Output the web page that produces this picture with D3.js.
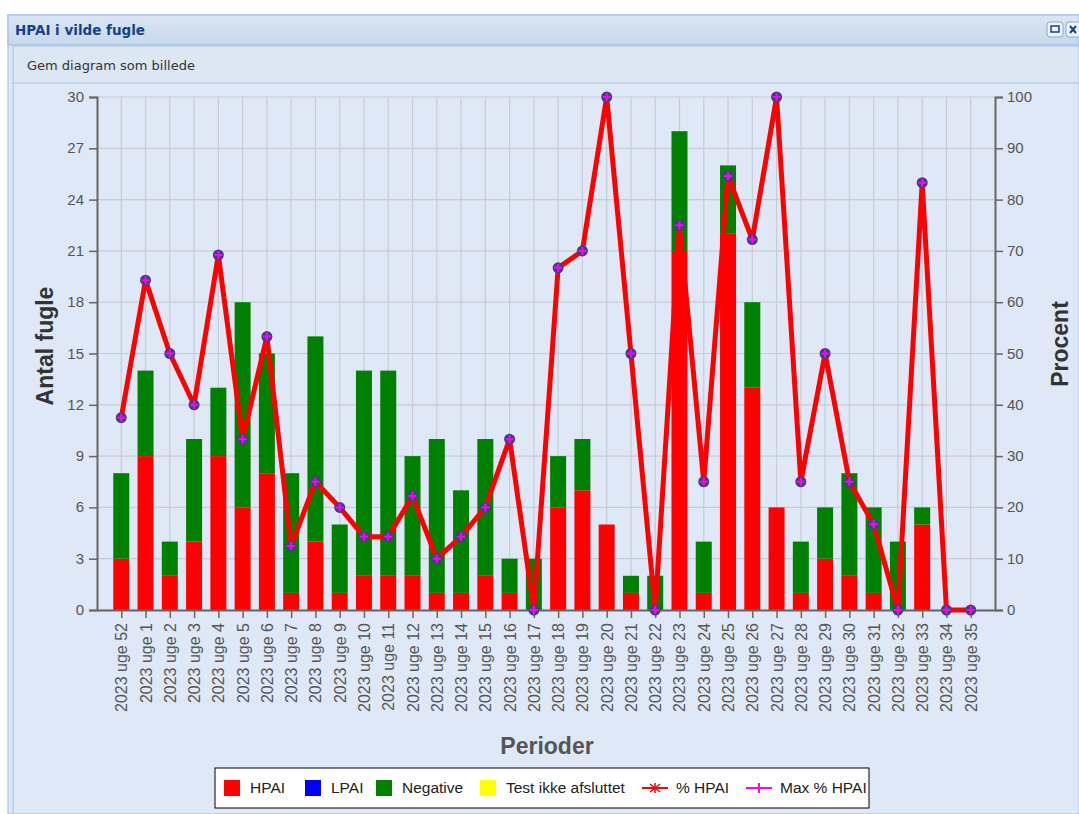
<!DOCTYPE html>
<html>
<head>
    <title>HPAI i vilde fugle</title>
    <script src="https://d3js.org/d3.v7.min.js"></script>
    <style>
        body { margin: 0; background: #fff; font-family: "Liberation Sans", Arial, sans-serif; }
        svg { display: block; }
    </style>
</head>
<body>
    <svg id="chart"></svg>
    <script>
        // uger (kategorier)
        var categories = ['2023 uge 52', '2023 uge 1', '2023 uge 2', '2023 uge 3', '2023 uge 4', '2023 uge 5',
            '2023 uge 6', '2023 uge 7', '2023 uge 8', '2023 uge 9', '2023 uge 10', '2023 uge 11', '2023 uge 12',
            '2023 uge 13', '2023 uge 14', '2023 uge 15', '2023 uge 16', '2023 uge 17', '2023 uge 18', '2023 uge 19',
            '2023 uge 20', '2023 uge 21', '2023 uge 22', '2023 uge 23', '2023 uge 24', '2023 uge 25', '2023 uge 26',
            '2023 uge 27', '2023 uge 28', '2023 uge 29', '2023 uge 30', '2023 uge 31', '2023 uge 32', '2023 uge 33',
            '2023 uge 34', '2023 uge 35'];
        var hpai     = [3, 9, 2, 4, 9, 6, 8, 1, 4, 1, 2, 2, 2, 1, 1, 2, 1, 0, 6, 7, 5, 1, 0, 21, 1, 22, 13, 6, 1, 3, 2, 1, 0, 5, 0, 0];
        var lpai     = [0, 0, 0, 0, 0, 0, 0, 0, 0, 0, 0, 0, 0, 0, 0, 0, 0, 0, 0, 0, 0, 0, 0, 0, 0, 0, 0, 0, 0, 0, 0, 0, 0, 0, 0, 0];
        var negative = [5, 5, 2, 6, 4, 12, 7, 7, 12, 4, 12, 12, 7, 9, 6, 8, 2, 3, 3, 3, 0, 1, 2, 7, 3, 4, 5, 0, 3, 3, 6, 5, 4, 1, 0, 0];
        var testIkke = [0, 0, 0, 0, 0, 0, 0, 0, 0, 0, 0, 0, 0, 0, 0, 0, 0, 0, 0, 0, 0, 0, 0, 0, 0, 0, 0, 0, 0, 0, 0, 0, 0, 0, 0, 0];
        var pctHpai  = [37.5, 64.3, 50, 40, 69.2, 33.3, 53.3, 12.5, 25, 20, 14.3, 14.3, 22.2, 10, 14.3, 20, 33.3, 0, 66.7, 70,
            100, 50, 0, 75, 25, 84.6, 72.2, 100, 25, 50, 25, 16.7, 0, 83.3, 0, 0];
        var maxPctHpai = [37.5, 64.3, 50, 40, 69.2, 33.3, 53.3, 12.5, 25, 20, 14.3, 14.3, 22.2, 10, 14.3, 20, 33.3, 0, 66.7, 70,
            100, 50, 0, 75, 25, 84.6, 72.2, 100, 25, 50, 25, 16.7, 0, 83.3, 0, 0];
        var leftTicks  = [0, 3, 6, 9, 12, 15, 18, 21, 24, 27, 30];
        var rightTicks = [0, 10, 20, 30, 40, 50, 60, 70, 80, 90, 100];

        var width = 1079;
        var height = 814;
        var margin = { top: 97, right: 84, bottom: 204, left: 97 };
        var innerWidth = width - margin.left - margin.right;
        var innerHeight = height - margin.top - margin.bottom;

        var svg = d3.select('#chart')
            .attr('width', width)
            .attr('height', height);

        // panel
        svg.append('rect').attr('x', 8).attr('y', 15).attr('width', width - 8).attr('height', height - 15)
            .attr('fill', '#dfe8f6').attr('stroke', '#99bbe8');
        var grad = svg.append('defs').append('linearGradient').attr('id', 'hdr').attr('x2', 0).attr('y2', 1);
        grad.append('stop').attr('offset', 0).attr('stop-color', '#dae6f4');
        grad.append('stop').attr('offset', 1).attr('stop-color', '#c8d7ea');
        svg.append('rect').attr('x', 8).attr('y', 15).attr('width', width - 8).attr('height', 30)
            .attr('fill', 'url(#hdr)').attr('stroke', '#99bbe8');
        svg.append('text').attr('x', 15).attr('y', 35)
            .style('font-family', 'DejaVu Sans, sans-serif').style('font-weight', 'bold')
            .style('font-size', '13.5px').attr('fill', '#15428b').text('HPAI i vilde fugle');
        svg.append('rect').attr('x', 1047).attr('y', 22).attr('width', 16).attr('height', 15).attr('rx', 3)
            .attr('fill', '#eef3fa').attr('stroke', '#8aa8d0');
        svg.append('rect').attr('x', 1051).attr('y', 26).attr('width', 8).attr('height', 6)
            .attr('fill', 'none').attr('stroke', '#15428b').attr('stroke-width', 1.5);
        svg.append('rect').attr('x', 1066).attr('y', 22).attr('width', 16).attr('height', 15).attr('rx', 3)
            .attr('fill', '#eef3fa').attr('stroke', '#8aa8d0');
        svg.append('path').attr('d', 'M1070,26L1076,33M1076,26L1070,33')
            .attr('stroke', '#15428b').attr('stroke-width', 2);
        svg.append('rect').attr('x', 13).attr('y', 46).attr('width', width - 13).attr('height', 37)
            .attr('fill', '#dde7f4').attr('stroke', '#a9c0df');
        svg.append('text').attr('x', 27).attr('y', 70)
            .style('font-family', 'DejaVu Sans, sans-serif').style('font-size', '13px')
            .attr('fill', '#333').text('Gem diagram som billede');
        svg.append('line').attr('x1', 13).attr('x2', 13).attr('y1', 83).attr('y2', height)
            .attr('stroke', '#a9c0df');

        // skalaer i absolutte koordinater
        var xScale = d3.scalePoint()
            .domain(categories)
            .range([margin.left, width - margin.right])
            .padding(1);
        var yScale = d3.scaleLinear().domain([0, 30]).range([height - margin.bottom, margin.top]);
        var y2Scale = d3.scaleLinear().domain([0, 100]).range([height - margin.bottom, margin.top]);

        var chart = svg.append('g');

        // gitter
        chart.append('g').selectAll('line').data(leftTicks).enter().append('line')
            .attr('x1', margin.left).attr('x2', width - margin.right)
            .attr('y1', function(d) { return yScale(d); }).attr('y2', function(d) { return yScale(d); })
            .attr('stroke', '#c8ccd4').attr('stroke-width', 1.2);
        chart.append('g').selectAll('line').data(categories).enter().append('line')
            .attr('x1', function(d) { return xScale(d); }).attr('x2', function(d) { return xScale(d); })
            .attr('y1', margin.top).attr('y2', height - margin.bottom)
            .attr('stroke', '#c8ccd4').attr('stroke-width', 1.2);

        // stablede søjler
        var keys = ['hpai', 'lpai', 'negative', 'test'];
        var colors = { hpai: '#ff0000', lpai: '#0000ff', negative: '#008000', test: '#ffff00' };
        var rows = categories.map(function(c, i) {
            return { label: c, hpai: hpai[i], lpai: lpai[i], negative: negative[i], test: testIkke[i] };
        });
        var stacked = d3.stack().keys(keys)(rows);
        var barW = 16;

        chart.append('g').selectAll('g').data(stacked).enter().append('g')
            .attr('fill', function(s) { return colors[s.key]; })
            .selectAll('rect').data(function(s) { return s; }).enter().append('rect')
            .attr('x', function(d) { return xScale(d.data.label) - barW / 2; })
            .attr('y', function(d) { return yScale(d[1]); })
            .attr('width', barW)
            .attr('height', function(d) { return yScale(d[0]) - yScale(d[1]); });

        // akser
        var axisL = chart.append('g')
            .attr('transform', 'translate(' + margin.left + ',0)')
            .call(d3.axisLeft(yScale).tickValues(leftTicks).tickSize(8).tickFormat(''));
        var axisR = chart.append('g')
            .attr('transform', 'translate(' + (width - margin.right) + ',0)')
            .call(d3.axisRight(y2Scale).tickValues(rightTicks).tickSize(8).tickFormat(''));
        var axisB = chart.append('g')
            .attr('transform', 'translate(0,' + (height - margin.bottom) + ')')
            .call(d3.axisBottom(xScale).tickSize(8).tickSizeOuter(0).tickFormat(''));
        [axisL, axisR, axisB].forEach(function(a) {
            a.selectAll('.domain').attr('stroke', '#666').attr('stroke-width', 2);
            a.selectAll('.tick line').attr('stroke', '#666').attr('stroke-width', 1.5);
            a.selectAll('.tick text').remove();
        });

        // akse-tal
        var labels = svg.append('g').attr('fill', '#555');
        labels.selectAll('text.yl').data(leftTicks).enter().append('text')
            .attr('class', 'yl')
            .attr('x', margin.left - 13).attr('y', function(d) { return yScale(d) + 5; })
            .attr('text-anchor', 'end').style('font-size', '15px')
            .text(function(d) { return d; });
        labels.selectAll('text.yr').data(rightTicks).enter().append('text')
            .attr('class', 'yr')
            .attr('x', width - margin.right + 12).attr('y', function(d) { return y2Scale(d) + 5; })
            .attr('text-anchor', 'start').style('font-size', '15px')
            .text(function(d) { return d; });
        labels.selectAll('text.xl').data(categories).enter().append('text')
            .attr('class', 'xl')
            .attr('transform', function(d) {
                return 'translate(' + (xScale(d) + 6) + ',' + (height - margin.bottom + 13) + ') rotate(-90)';
            })
            .attr('text-anchor', 'end').style('font-size', '16px')
            .text(function(d) { return d; });

        // linjer
        var line = d3.line()
            .x(function(d, i) { return xScale(categories[i]); })
            .y(function(d) { return y2Scale(d); });

        chart.append('path').datum(maxPctHpai)
            .attr('d', line).attr('fill', 'none').attr('stroke', '#ff00ff').attr('stroke-width', 2);
        chart.append('path').datum(pctHpai)
            .attr('d', line).attr('fill', 'none').attr('stroke', '#ff0000')
            .attr('stroke-width', 5).attr('stroke-linejoin', 'round');

        var pts = chart.append('g').selectAll('g').data(maxPctHpai).enter().append('g')
            .attr('transform', function(d, i) { return 'translate(' + xScale(categories[i]) + ',' + y2Scale(d) + ')'; });
        pts.append('circle').attr('r', 5.5).attr('fill', '#433f7e');
        pts.append('path').attr('d', 'M-4,0H4M0,-4V4').attr('stroke', '#ff00ff').attr('stroke-width', 2);

        // aksetitler
        svg.append('text')
            .attr('transform', 'rotate(-90)')
            .attr('x', -346).attr('y', 53)
            .attr('text-anchor', 'middle')
            .style('font-size', '23px').style('font-weight', 'bold').attr('fill', '#333')
            .text('Antal fugle');
        svg.append('text')
            .attr('transform', 'rotate(-90)')
            .attr('x', -344).attr('y', 1068)
            .attr('text-anchor', 'middle')
            .style('font-size', '23px').style('font-weight', 'bold').attr('fill', '#333')
            .text('Procent');
        svg.append('text')
            .attr('x', 547).attr('y', 754)
            .attr('text-anchor', 'middle')
            .style('font-size', '23px').style('font-weight', 'bold').attr('fill', '#555')
            .text('Perioder');

        // forklaring
        var legend = svg.append('g');
        legend.append('rect').attr('x', 215).attr('y', 768).attr('width', 654).attr('height', 40)
            .attr('fill', '#fff').attr('stroke', '#000');
        var items = [
            { name: 'HPAI', color: '#ff0000', type: 'box', x: 224 },
            { name: 'LPAI', color: '#0000ff', type: 'box', x: 305 },
            { name: 'Negative', color: '#008000', type: 'box', x: 376 },
            { name: 'Test ikke afsluttet', color: '#ffff00', type: 'box', x: 480 },
            { name: '% HPAI', color: '#ff0000', type: 'star', x: 642 },
            { name: 'Max % HPAI', color: '#ff00ff', type: 'plus', x: 746 }
        ];
        var li = legend.selectAll('g.item').data(items).enter().append('g')
            .attr('transform', function(d) { return 'translate(' + d.x + ',788)'; });
        li.filter(function(d) { return d.type === 'box'; }).append('rect')
            .attr('x', 0).attr('y', -8).attr('width', 16).attr('height', 16)
            .attr('fill', function(d) { return d.color; });
        li.filter(function(d) { return d.type !== 'box'; }).append('line')
            .attr('x1', 0).attr('x2', 26).attr('y1', 0).attr('y2', 0)
            .attr('stroke', function(d) { return d.color; }).attr('stroke-width', 2);
        li.filter(function(d) { return d.type === 'star'; }).append('path')
            .attr('d', 'M8,-4L18,4M8,4L18,-4M13,-5V5').attr('stroke', '#ff0000').attr('stroke-width', 1.5);
        li.filter(function(d) { return d.type === 'plus'; }).append('path')
            .attr('d', 'M8,0H18M13,-5V5').attr('stroke', '#ff00ff').attr('stroke-width', 2);
        li.append('text')
            .attr('x', function(d) { return d.type === 'box' ? 26 : 34; })
            .attr('y', 0).attr('dy', '0.35em')
            .style('font-size', '15.5px').attr('fill', '#222')
            .text(function(d) { return d.name; });
    </script>
</body>
</html>
